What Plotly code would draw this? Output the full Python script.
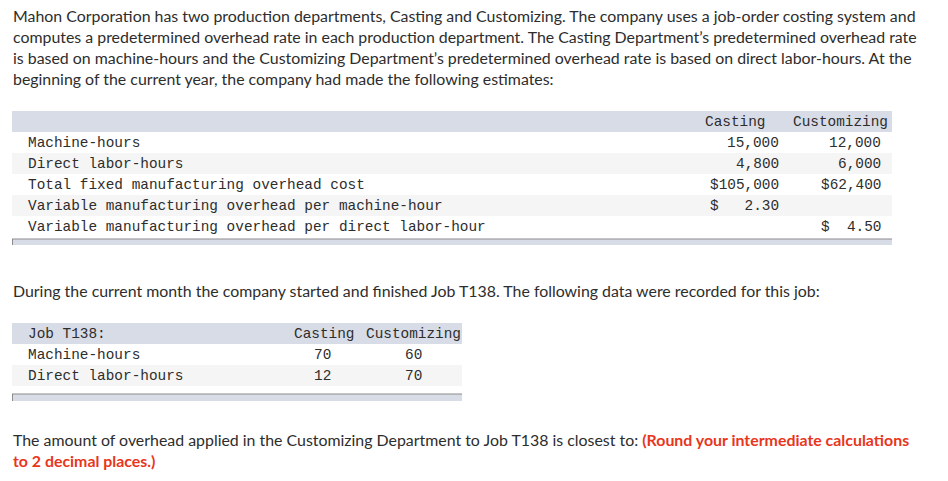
import plotly.graph_objects as go

# ---------------- data ----------------
intro_lines = [
    "Mahon Corporation has two production departments, Casting and Customizing. The company uses a job-order costing system and",
    "computes a predetermined overhead rate in each production department. The Casting Department\u2019s predetermined overhead rate",
    "is based on machine-hours and the Customizing Department\u2019s predetermined overhead rate is based on direct labor-hours. At the",
    "beginning of the current year, the company had made the following estimates:",
]
est_headers = ["Casting", "Customizing"]
est_labels = [
    "Machine-hours",
    "Direct labor-hours",
    "Total fixed manufacturing overhead cost",
    "Variable manufacturing overhead per machine-hour",
    "Variable manufacturing overhead per direct labor-hour",
]
est_casting = ["15,000", "4,800", "$105,000", "$   2.30", ""]
est_customizing = ["12,000", "6,000", "$62,400", "", "$  4.50"]

middle_text = "During the current month the company started and finished Job T138. The following data were recorded for this job:"

job_title = "Job T138:"
job_headers = ["Casting", "Customizing"]
job_labels = ["Machine-hours", "Direct labor-hours"]
job_casting = [70, 12]
job_customizing = [60, 70]

question_line1 = "The amount of overhead applied in the Customizing Department to Job T138 is closest to: "
question_red1 = "(Round your intermediate calculations"
question_red2 = "to 2 decimal places.)"

# ---------------- style ----------------
W, H = 948, 481
TXT = "#2d2d2d"
RED = "#e8361c"
HDR = "#d8dce6"
ALT = "#f5f5f5"
LINE = "#8c8c8c"
SANS = "Lato, 'Open Sans', sans-serif"
MONO = "'Liberation Mono', 'DejaVu Sans Mono', monospace"
SANS_SIZE = 15.9
MONO_SIZE = 14.4
ROW_H = 21

fig = go.Figure()
shapes = []
ann = []


def text(x, y, s, font_family=SANS, size=SANS_SIZE, color=TXT, anchor="left"):
    ann.append(dict(x=x, y=y, xref="x", yref="y", text=s, showarrow=False,
                    xanchor=anchor, yanchor="middle", borderpad=0,
                    font=dict(family=font_family, size=size, color=color)))


def rect(x0, y0, x1, y1, fill, line_color=None, line_w=0):
    shapes.append(dict(type="rect", xref="x", yref="y", x0=x0, y0=y0, x1=x1, y1=y1,
                       fillcolor=fill, line=dict(width=line_w, color=line_color or fill),
                       layer="below"))


# intro paragraph
for i, line in enumerate(intro_lines):
    text(12, 15 + i * 21, line)

# ---- estimates table ----
t1_left, t1_right, t1_top = 12, 892, 111
rect(t1_left, t1_top, t1_right, t1_top + ROW_H, HDR)
text(766, t1_top + 11, est_headers[0], MONO, MONO_SIZE, anchor="right")
text(889, t1_top + 11, est_headers[1], MONO, MONO_SIZE, anchor="right")
for i, lab in enumerate(est_labels):
    y0 = t1_top + ROW_H * (i + 1)
    if i % 2 == 1:
        rect(t1_left, y0, t1_right, y0 + ROW_H, ALT)
    yc = y0 + ROW_H / 2
    text(27, yc, lab, MONO, MONO_SIZE)
    if est_casting[i]:
        text(780, yc, est_casting[i].replace(" ", "&nbsp;"), MONO, MONO_SIZE, anchor="right")
    if est_customizing[i]:
        text(882, yc, est_customizing[i].replace(" ", "&nbsp;"), MONO, MONO_SIZE, anchor="right")
t1_bottom = t1_top + ROW_H * (len(est_labels) + 1) + 2
rect(t1_left, t1_bottom, t1_right, t1_bottom + 6, HDR)
shapes.append(dict(type="line", xref="x", yref="y", x0=t1_left, x1=t1_right, y0=t1_bottom, y1=t1_bottom,
                   line=dict(color=LINE, width=1.2)))
shapes.append(dict(type="line", xref="x", yref="y", x0=t1_left + 0.5, x1=t1_left + 0.5, y0=t1_bottom, y1=t1_bottom + 6,
                   line=dict(color=LINE, width=1)))

# middle text
text(12, 290, middle_text)

# ---- job table ----
t2_left, t2_right, t2_top = 12, 462, 323
rect(t2_left, t2_top, t2_right, t2_top + ROW_H, HDR)
text(27, t2_top + 10.5, job_title, MONO, MONO_SIZE)
text(324, t2_top + 10.5, job_headers[0], MONO, MONO_SIZE, anchor="center")
text(413.5, t2_top + 10.5, job_headers[1], MONO, MONO_SIZE, anchor="center")
for i, lab in enumerate(job_labels):
    y0 = t2_top + ROW_H * (i + 1)
    if i % 2 == 1:
        rect(t2_left, y0, t2_right, y0 + ROW_H, ALT)
    yc = y0 + ROW_H / 2
    text(27, yc, lab, MONO, MONO_SIZE)
    text(322, yc, str(job_casting[i]), MONO, MONO_SIZE, anchor="center")
    text(413, yc, str(job_customizing[i]), MONO, MONO_SIZE, anchor="center")
t2_bottom = t2_top + ROW_H * (len(job_labels) + 1) + 8
rect(t2_left, t2_bottom, t2_right, t2_bottom + 7, HDR)
shapes.append(dict(type="line", xref="x", yref="y", x0=t2_left, x1=t2_right, y0=t2_bottom, y1=t2_bottom,
                   line=dict(color=LINE, width=1.2)))
shapes.append(dict(type="line", xref="x", yref="y", x0=t2_left + 0.5, x1=t2_left + 0.5, y0=t2_bottom, y1=t2_bottom + 7,
                   line=dict(color=LINE, width=1)))

# question
text(12, 439, question_line1 + f"<span style='color:{RED}'><b>{question_red1}</b></span>")
text(12, 460, f"<span style='color:{RED}'><b>{question_red2}</b></span>")

fig.update_layout(
    width=W, height=H,
    margin=dict(l=0, r=0, t=0, b=0),
    paper_bgcolor="white", plot_bgcolor="white",
    xaxis=dict(range=[0, W], visible=False, fixedrange=True),
    yaxis=dict(range=[H, 0], visible=False, fixedrange=True),
    shapes=shapes, annotations=ann, showlegend=False,
)
fig.write_html("out.html", config={"displayModeBar": False},
               post_script="document.body.style.margin='0';document.body.style.overflow='hidden';")
